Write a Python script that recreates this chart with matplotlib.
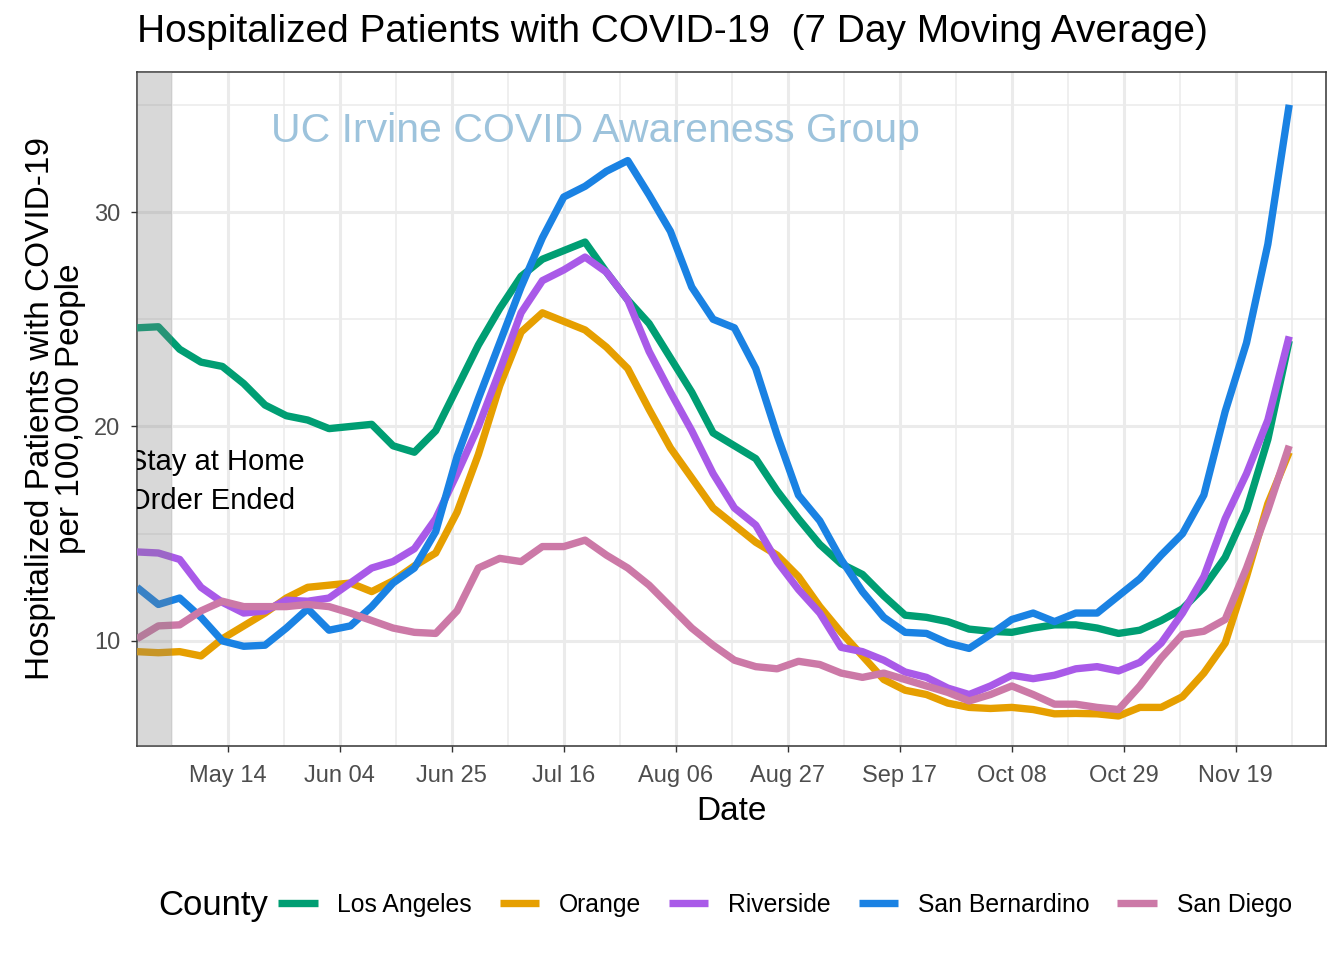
import matplotlib
matplotlib.use("Agg")
import matplotlib.pyplot as plt
import matplotlib.dates as mdates
from matplotlib.lines import Line2D
import pandas as pd

plt.rcParams['font.family'] = ['Liberation Sans', 'DejaVu Sans']

# 7 day moving average, hospitalized per 100,000 people, every 4 days
dates = pd.date_range("2020-04-27", "2020-11-29", freq="4D")

los_angeles = [24.6, 24.65, 23.6, 23.0, 22.8, 22.0, 21.0, 20.5, 20.3, 19.9,
               20.0, 20.1, 19.1, 18.8, 19.8, 21.8, 23.8, 25.5, 27.0, 27.8,
               28.2, 28.6, 27.2, 25.9, 24.8, 23.2, 21.6, 19.7, 19.1, 18.5,
               17.0, 15.7, 14.5, 13.6, 13.1, 12.1, 11.2, 11.1, 10.9, 10.55,
               10.45, 10.4, 10.6, 10.75, 10.75, 10.6, 10.35, 10.5, 10.95, 11.5,
               12.5, 13.9, 16.1, 19.4, 24.0]
orange = [9.5, 9.45, 9.5, 9.3, 10.1, 10.7, 11.3, 12.0, 12.5, 12.6,
          12.7, 12.3, 12.8, 13.5, 14.1, 16.0, 18.7, 21.9, 24.4, 25.3,
          24.9, 24.5, 23.7, 22.7, 20.8, 19.0, 17.6, 16.2, 15.4, 14.6,
          14.0, 13.0, 11.6, 10.4, 9.3, 8.2, 7.7, 7.5, 7.1, 6.9,
          6.85, 6.9, 6.8, 6.6, 6.62, 6.6, 6.5, 6.9, 6.9, 7.4,
          8.5, 9.9, 13.0, 16.4, 18.8]
riverside = [14.15, 14.1, 13.8, 12.5, 11.8, 11.3, 11.4, 11.9, 11.85, 12.0,
             12.7, 13.4, 13.7, 14.3, 15.7, 17.8, 20.0, 22.6, 25.3, 26.8,
             27.3, 27.9, 27.2, 25.9, 23.5, 21.6, 19.8, 17.8, 16.2, 15.4,
             13.7, 12.4, 11.3, 9.7, 9.5, 9.1, 8.55, 8.3, 7.8, 7.5,
             7.9, 8.4, 8.24, 8.4, 8.7, 8.8, 8.6, 9.0, 9.9, 11.3,
             13.0, 15.7, 17.8, 20.3, 24.2]
san_bernardino = [12.5, 11.7, 12.0, 11.1, 10.0, 9.75, 9.8, 10.6, 11.5, 10.5,
                  10.7, 11.6, 12.7, 13.4, 15.1, 18.6, 21.3, 23.9, 26.5, 28.8,
                  30.7, 31.2, 31.9, 32.4, 30.8, 29.1, 26.5, 25.0, 24.6, 22.7,
                  19.6, 16.8, 15.6, 13.8, 12.3, 11.1, 10.4, 10.35, 9.9, 9.65,
                  10.3, 11.0, 11.3, 10.9, 11.3, 11.3, 12.1, 12.9, 14.0, 15.0,
                  16.8, 20.7, 23.9, 28.5, 35.0]
san_diego = [10.1, 10.7, 10.75, 11.4, 11.85, 11.6, 11.6, 11.6, 11.7, 11.6,
             11.3, 10.95, 10.6, 10.4, 10.35, 11.4, 13.4, 13.85, 13.7, 14.4,
             14.4, 14.7, 14.0, 13.4, 12.6, 11.6, 10.6, 9.8, 9.1, 8.8,
             8.7, 9.05, 8.9, 8.5, 8.3, 8.5, 8.2, 7.9, 7.6, 7.2,
             7.5, 7.9, 7.5, 7.05, 7.05, 6.9, 6.8, 7.9, 9.2, 10.3,
             10.45, 11.0, 13.4, 16.1, 19.1]

counties = ["Los Angeles", "Orange", "Riverside", "San Bernardino", "San Diego"]
series = [los_angeles, orange, riverside, san_bernardino, san_diego]
colors = ["#009E73", "#E69F00", "#A95AE8", "#1A82E3", "#CC79A7"]

fig = plt.figure(figsize=(13.44, 9.6), dpi=100)
ax = fig.add_axes([137 / 1344, 214 / 960, 1189 / 1344, 674 / 960])

for vals, col in zip(series, colors):
    ax.plot(dates, vals, color=col, lw=5.3, solid_capstyle='butt',
            solid_joinstyle='round', zorder=3)

# stay at home order shading
ax.axvspan(pd.Timestamp("2020-04-20"), pd.Timestamp("2020-05-03 14:00"),
           color="grey", alpha=0.3, lw=0, zorder=4)
ax.text(pd.Timestamp("2020-04-25 08:00"), 17.45, "Stay at Home\nOrder Ended",
        fontsize=21, ha='left', va='center', linespacing=1.5, clip_on=True, zorder=5)
ax.text(pd.Timestamp("2020-07-22"), 33.8, "UC Irvine COVID Awareness Group",
        fontsize=29.5, color="#9DC3DC", ha='center', va='center', zorder=2)

xmin = pd.Timestamp("2020-04-27")
ax.set_xlim(xmin, xmin + pd.Timedelta(days=222.9))
ax.set_ylim(5.1, 36.53)

major_dates = pd.date_range("2020-05-14", "2020-11-19", freq="21D")
minor_dates = pd.date_range("2020-05-03 12:00", "2020-11-29 12:00", freq="21D")
ax.set_xticks(major_dates)
ax.set_xticks(minor_dates, minor=True)
ax.xaxis.set_major_formatter(mdates.DateFormatter("%b %d"))
ax.set_yticks([10, 20, 30])
ax.set_yticks([15, 25, 35], minor=True)

ax.grid(which='major', color="#EBEBEB", lw=2.2, zorder=0)
ax.grid(which='minor', color="#EBEBEB", lw=1.1, zorder=0)
ax.set_axisbelow(True)
ax.tick_params(which='major', length=4, width=1, color="#333333",
               labelsize=17, labelcolor="#4D4D4D")
ax.tick_params(axis='x', which='major', pad=10)
ax.tick_params(axis='y', which='major', pad=8)
ax.tick_params(which='minor', length=0)
for s in ax.spines.values():
    s.set_color("#333333")
    s.set_linewidth(1.1)

ax.set_xlabel("Date", fontsize=24)
ax.xaxis.set_label_coords(0.5, -0.074)
ax.set_ylabel("Hospitalized Patients with COVID-19\nper 100,000 People",
              fontsize=24, linespacing=0.95)
ax.yaxis.set_label_coords(-0.043, 0.5)

fig.text(137 / 1344, 1 - 32 / 960,
         "Hospitalized Patients with COVID-19  (7 Day Moving Average)",
         fontsize=28, ha='left', va='center')

fig.text(158 / 1344, 1 - 905 / 960, "County", fontsize=25, ha='left', va='center')
handles = [Line2D([], [], color=c, lw=5.3, solid_capstyle='butt') for c in colors]
fig.legend(handles, counties, loc='center left',
           bbox_to_anchor=(278 / 1344, 1 - 905 / 960), ncol=5, frameon=False,
           fontsize=17.8, handlelength=1.6, handletextpad=0.8, columnspacing=1.12,
           borderpad=0, borderaxespad=0)

fig.savefig("out.png", dpi=100)
